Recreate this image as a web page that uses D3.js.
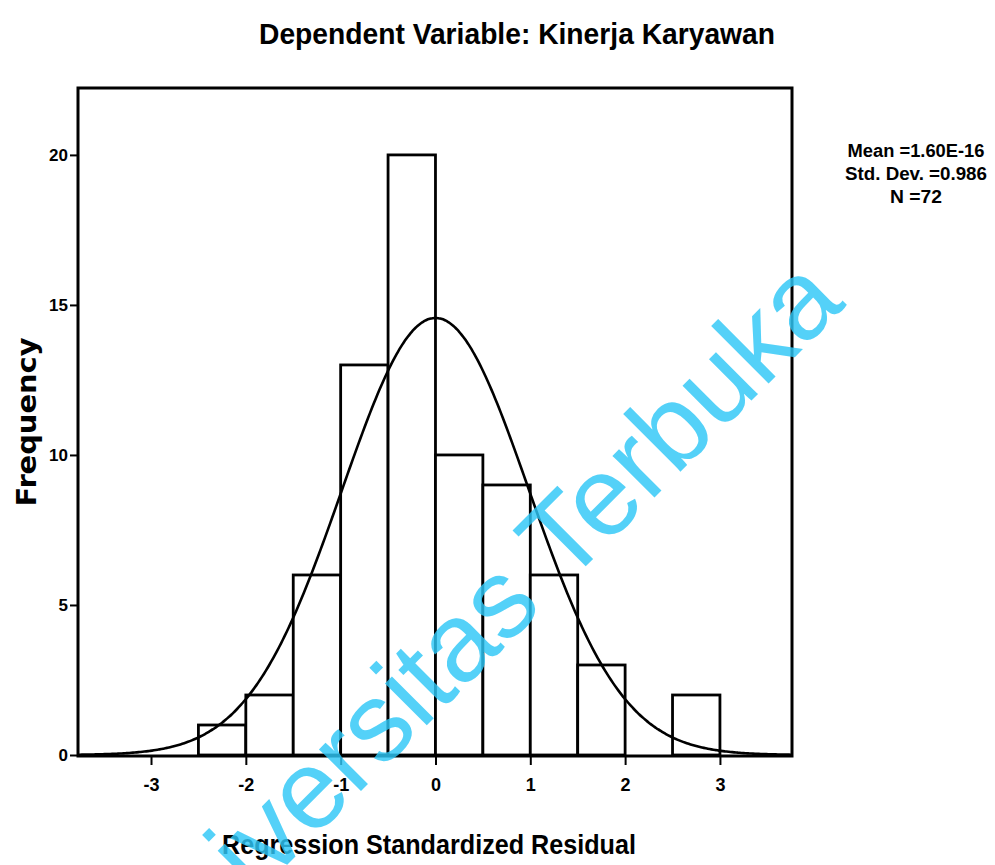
<!DOCTYPE html>
<html>
<head>
<meta charset="utf-8">
<script src="https://cdn.jsdelivr.net/npm/d3@7"></script>
<style>
  html, body { margin: 0; padding: 0; background: #ffffff; }
  svg { display: block; }
</style>
</head>
<body>
<script>
// ---- data ----
const binStarts = [-2.5, -2.0, -1.5, -1.0, -0.5, 0.0, 0.5, 1.0, 1.5, 2.0, 2.5];
const binWidth = 0.5;
const frequencies = [1, 2, 6, 13, 20, 10, 9, 6, 3, 0, 2];
const xTicks = [-3, -2, -1, 0, 1, 2, 3];
const yTicks = [0, 5, 10, 15, 20];
const statMean = 1.60e-16;
const statSD = 0.986;
const statN = 72;
const legendLines = ["Mean =1.60E-16", "Std. Dev. =0.986", "N =72"];
const titleText = "Dependent Variable: Kinerja Karyawan";
const xLabel = "Regression Standardized Residual";
const yLabel = "Frequency";
const watermark = "Universitas Terbuka";

// ---- layout ----
const W = 995, H = 865;
const plot = { left: 78, right: 792, top: 88, bottom: 756 };
const svg = d3.select("body").append("svg").attr("width", W).attr("height", H);
svg.append("rect").attr("width", W).attr("height", H).attr("fill", "#fff");

const x = d3.scaleLinear().domain([-3.77, 3.76]).range([plot.left, plot.right]);
const y = d3.scaleLinear().domain([0, 22.23]).range([755, plot.top]);

const font = "'Liberation Sans Narrow', 'Arial Narrow', 'Liberation Sans', Arial, sans-serif";

// bars
const bins = binStarts.map((s, i) => ({ x0: s, x1: s + binWidth, n: frequencies[i] }));
svg.append("g").selectAll("rect").data(bins.filter(d => d.n > 0)).join("rect")
  .attr("x", d => x(d.x0))
  .attr("y", d => y(d.n))
  .attr("width", d => x(d.x1) - x(d.x0))
  .attr("height", d => y(0) - y(d.n))
  .attr("fill", "#fff")
  .attr("stroke", "#000")
  .attr("stroke-width", 2.8);

// normal curve from the reported statistics
const scaleK = statN * binWidth / (statSD * Math.sqrt(2 * Math.PI));
const curvePts = d3.range(x.domain()[0], x.domain()[1] + 0.001, 0.02)
  .map(v => [v, scaleK * Math.exp(-0.5 * Math.pow((v - statMean) / statSD, 2))]);
svg.append("path").datum(curvePts)
  .attr("d", d3.line().x(d => x(d[0])).y(d => y(d[1])).curve(d3.curveBasis))
  .attr("fill", "none").attr("stroke", "#000").attr("stroke-width", 2.6);

// frame
svg.append("rect")
  .attr("x", plot.left).attr("y", plot.top)
  .attr("width", plot.right - plot.left).attr("height", plot.bottom - plot.top)
  .attr("fill", "none").attr("stroke", "#000").attr("stroke-width", 3);

// y axis
const yAxis = d3.axisLeft(y).tickValues(yTicks).tickSize(8).tickPadding(2).tickFormat(d => String(d));
const gy = svg.append("g").attr("transform", `translate(${plot.left},0)`).call(yAxis);
gy.select(".domain").remove();
gy.selectAll(".tick line").attr("stroke", "#000").attr("stroke-width", 2);
gy.selectAll(".tick text").attr("font-family", font).attr("font-weight", "bold")
  .attr("font-size", 17).attr("fill", "#000");

// x axis
const xAxis = d3.axisBottom(x).tickValues(xTicks).tickSize(9).tickPadding(13).tickFormat(d => String(d));
const gx = svg.append("g").attr("transform", `translate(0,${plot.bottom})`).call(xAxis);
gx.select(".domain").remove();
gx.selectAll(".tick line").attr("stroke", "#000").attr("stroke-width", 2);
gx.selectAll(".tick text").attr("font-family", font).attr("font-weight", "bold")
  .attr("font-size", 18).attr("fill", "#000");

// title
svg.append("text").attr("x", 517).attr("y", 44).attr("text-anchor", "middle")
  .attr("font-family", font).attr("font-weight", "bold").attr("font-size", 30)
  .attr("textLength", 516).attr("lengthAdjust", "spacingAndGlyphs")
  .text(titleText);

// axis labels
svg.append("text").attr("x", 429).attr("y", 854).attr("text-anchor", "middle")
  .attr("font-family", font).attr("font-weight", "bold").attr("font-size", 28)
  .attr("textLength", 414).attr("lengthAdjust", "spacingAndGlyphs")
  .text(xLabel);

svg.append("text").attr("transform", "translate(36,422) rotate(-90)").attr("text-anchor", "middle")
  .attr("font-family", "'DejaVu Sans', Verdana, sans-serif").attr("font-weight", "bold").attr("font-size", 27)
  .attr("textLength", 169).attr("lengthAdjust", "spacingAndGlyphs")
  .text(yLabel);

// legend
const legendW = [137, 142, 52];
svg.append("g").selectAll("text").data(legendLines).join("text")
  .attr("x", 916).attr("y", (d, i) => 157 + i * 23)
  .attr("text-anchor", "middle")
  .attr("font-family", font).attr("font-weight", "bold").attr("font-size", 18)
  .attr("textLength", (d, i) => legendW[i]).attr("lengthAdjust", "spacingAndGlyphs")
  .text(d => d);

// watermark
svg.append("text").attr("transform", "translate(847,305) rotate(-45)")
  .attr("text-anchor", "end")
  .attr("font-family", "'Liberation Sans', Arial, sans-serif").attr("font-size", 112)
  .attr("fill", "#2ec7f7").attr("fill-opacity", 0.82)
  .text(watermark);
</script>
</body>
</html>
